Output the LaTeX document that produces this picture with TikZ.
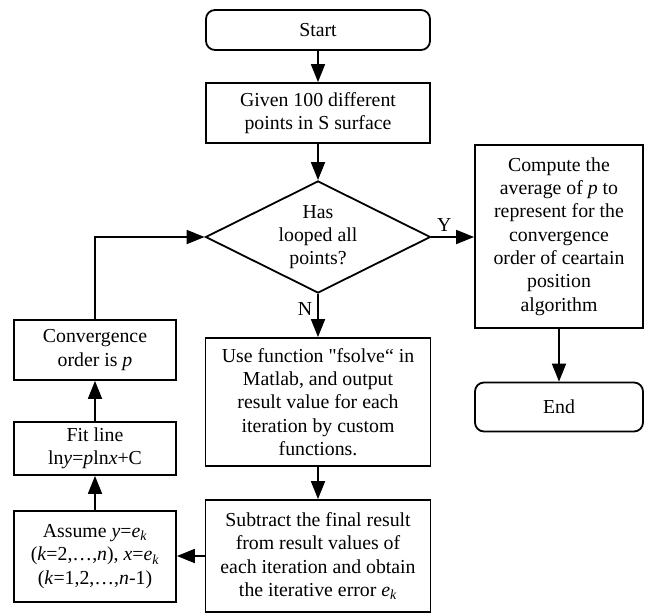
\documentclass[tikz,border=0pt]{standalone}
\usepackage{fontspec}
\setmainfont{Liberation Serif}
\newfontfamily\plainserif{Liberation Serif}
\usetikzlibrary{arrows.meta,shapes.geometric}
\begin{document}
\begin{tikzpicture}[x=1bp,y=-1bp,
  every node/.style={font=\fontsize{19.8bp}{23.3bp}\selectfont},
  box/.style={draw,line width=1.8bp,rectangle,align=center,inner sep=0pt},
  term/.style={box,rounded corners=9bp},
  decision/.style={draw,line width=1.8bp,diamond,inner sep=0pt},
  arr/.style={line width=1.8bp,-{Triangle[length=18bp,width=14bp]}},
  lbl/.style={inner sep=0pt},
]
\useasboundingbox (0,0) rectangle (645,613);
\node[term,minimum width=224bp,minimum height=40bp] (start) at (318,30) {Start};
\node[box,minimum width=224bp,minimum height=60bp] (given) at (318,113) {Given 100 different\\points in S surface};
\node[decision,minimum width=225bp,minimum height=112bp] (dec) at (318,237) {};
\node[align=center,inner sep=0pt] (dectext) at (dec) {Has\\looped all\\points?};
\node[box,minimum width=168bp,minimum height=183bp] (comp) at (559,236.5) {Compute the\\average of \textit{p} to\\represent for the\\convergence\\order of ceartain\\position\\algorithm};
\node[term,minimum width=168bp,minimum height=49bp] (end) at (559,407) {End};
\node[box,minimum width=225bp,minimum height=128bp] (use) at (318,402) {Use function {\plainserif"}fsolve“ in\\Matlab, and output\\result value for each\\iteration by custom\\functions.};
\node[box,minimum width=225bp,minimum height=112bp] (sub) at (318,556) {Subtract the final result\\from result values of\\each iteration and obtain\\the iterative error \textit{e}\textsubscript{\textit{k}}};
\node[box,minimum width=162bp,minimum height=60bp] (conv) at (95,350) {Convergence\\order is \textit{p}};
\node[box,minimum width=162bp,minimum height=53bp] (fit) at (95,448.5) {Fit line\\ln\textit{y}=\textit{p}ln\textit{x}+C};
\node[box,minimum width=162bp,minimum height=91bp] (assume) at (95,556.5) {Assume \textit{y}=\textit{e}\textsubscript{\textit{k}}\\(\textit{k}=2,\ldots,\textit{n}), \textit{x}=\textit{e}\textsubscript{\textit{k}}\\(\textit{k}=1,2,\ldots,\textit{n}-1)};
\draw[arr] (start) -- (given);
\draw[arr] (given) -- (dec.north);
\draw[arr] (dec.east) -- (dec.east -| comp.west) node[lbl,pos=0.3,above=5bp] (ylab) {Y};
\draw[arr] (dec.south) -- (use.north) node[lbl,pos=0.35,left=5bp] (nlab) {N};
\draw[arr] (comp) -- (end);
\draw[arr] (use) -- (sub);
\draw[arr] (sub.west) -- (sub.west -| assume.east);
\draw[arr] (assume) -- (fit);
\draw[arr] (fit) -- (conv);
\draw[arr] (conv.north) |- (dec.west);
\end{tikzpicture}
\end{document}
